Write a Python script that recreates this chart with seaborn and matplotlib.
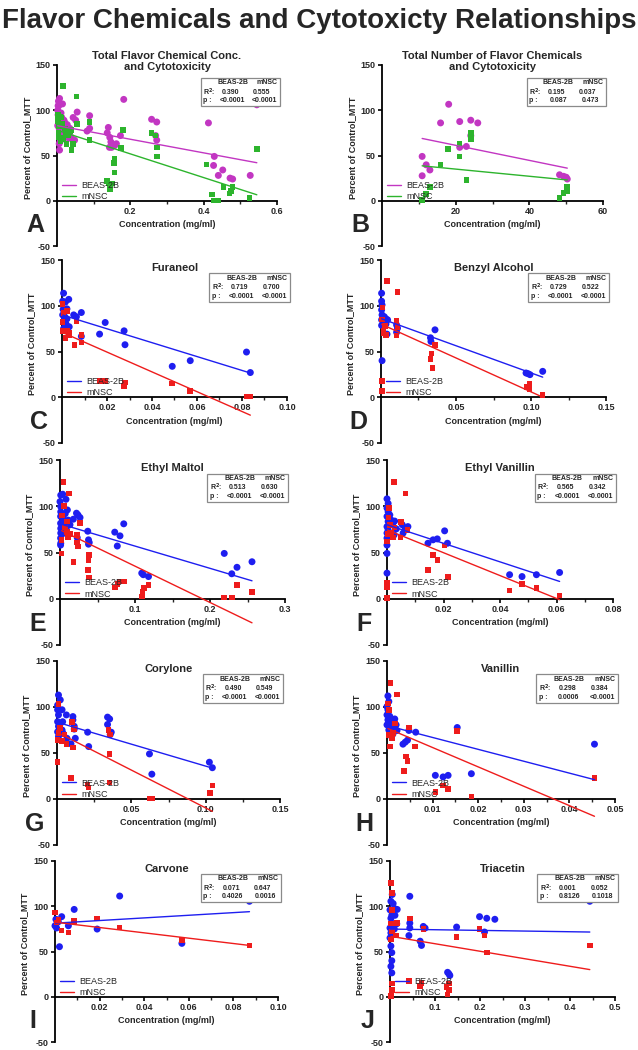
import numpy as np
import pandas as pd
import seaborn as sns
import matplotlib
matplotlib.use("Agg")
import matplotlib.pyplot as plt
from matplotlib.patches import Rectangle

# ------------------------------------------------------------------ data
suptitle = "Flavor Chemicals and Cytotoxicty Relationships"
series_names = ["BEAS-2B", "mNSC"]
letters = ["A", "B", "C", "D", "E", "F", "G", "H", "I", "J"]
titles = ["Total Flavor Chemical Conc.\nand Cytotoxicity",
          "Total Number of Flavor Chemicals\nand Cytotoxicity",
          "Furaneol", "Benzyl Alcohol", "Ethyl Maltol", "Ethyl Vanillin",
          "Corylone", "Vanillin", "Carvone", "Triacetin"]
x_max = [0.6, 60, 0.10, 0.15, 0.3, 0.08, 0.15, 0.05, 0.10, 0.5]
x_ticks = [[0.2, 0.4, 0.6], [20, 40, 60], [0.02, 0.04, 0.06, 0.08, 0.10],
           [0.05, 0.10, 0.15], [0.1, 0.2, 0.3], [0.02, 0.04, 0.06, 0.08],
           [0.05, 0.10, 0.15], [0.01, 0.02, 0.03, 0.04, 0.05],
           [0.02, 0.04, 0.06, 0.08, 0.10], [0.1, 0.2, 0.3, 0.4, 0.5]]
x_tick_labels = [["0.2", "0.4", "0.6"], ["20", "40", "60"],
                 ["0.02", "0.04", "0.06", "0.08", "0.10"],
                 ["0.05", "0.10", "0.15"], ["0.1", "0.2", "0.3"],
                 ["0.02", "0.04", "0.06", "0.08"], ["0.05", "0.10", "0.15"],
                 ["0.01", "0.02", "0.03", "0.04", "0.05"],
                 ["0.02", "0.04", "0.06", "0.08", "0.10"],
                 ["0.1", "0.2", "0.3", "0.4", "0.5"]]
y_ticks = [-50, 0, 50, 100, 150]

r2_beas = ["0.390", "0.195", "0.719", "0.729", "0.513", "0.565", "0.490", "0.298", "0.071", "0.001"]
r2_mnsc = ["0.555", "0.037", "0.700", "0.522", "0.630", "0.342", "0.549", "0.384", "0.647", "0.052"]
p_beas = ["<0.0001", "0.087", "<0.0001", "<0.0001", "<0.0001", "<0.0001", "<0.0001", "0.0006", "0.4026", "0.8126"]
p_mnsc = ["<0.0001", "0.473", "<0.0001", "<0.0001", "<0.0001", "<0.0001", "<0.0001", "<0.0001", "0.0016", "0.1018"]

# regression lines (intercept at x=0, slope)
fit_beas_intercept = [83, 77.9, 90, 86, 81, 80, 83.5, 79.8, 81.3, 74.8]
fit_beas_slope = [-75.2, -0.8325, -758.7, -594, -240.6, -1003, -477.5, -1292, 145.6, -7.4]
fit_mnsc_intercept = [78, 42.9, 71, 80, 74.5, 74.5, 72.6, 77, 82.4, 66.9]
fit_mnsc_slope = [-131, -0.396, -1082, -741, -392.6, -1236, -823, -2105, -294.7, -83.1]

# Panel A
A_beas_x = [0.007, 0.015, 0.005, 0.007, 0.055, 0.044, 0.051, 0.039, 0.048, 0.089, 0.089, 0.082,
            0.140, 0.137, 0.144, 0.147, 0.149, 0.157, 0.162, 0.143, 0.173, 0.182, 0.258, 0.272,
            0.269, 0.272, 0.413, 0.427, 0.429, 0.440, 0.452, 0.472, 0.479, 0.527, 0.545,
            0.002, 0.003, 0.005, 0.004, 0.006, 0.008, 0.010, 0.012, 0.003, 0.007, 0.015, 0.018,
            0.020, 0.022, 0.025, 0.013, 0.009, 0.004, 0.016, 0.028, 0.030, 0.032, 0.035, 0.011,
            0.006, 0.019, 0.024, 0.002, 0.014, 0.026]
A_beas_y = [113, 107, 105, 56, 98, 92, 89, 70, 67, 94, 80, 77, 81, 75, 70, 65, 59, 61, 63, 59, 72,
            112, 90, 87, 72, 67, 86, 39, 49, 28, 34, 25, 24, 28, 106,
            100, 95, 90, 85, 80, 75, 70, 68, 105, 88, 82, 78, 73, 86, 79, 92, 66, 110, 71, 84, 76,
            69, 80, 97, 63, 89, 74, 83, 77, 72]
A_mnsc_x = [0.016, 0.053, 0.010, 0.026, 0.039, 0.044, 0.055, 0.089, 0.089, 0.137, 0.141, 0.146,
            0.151, 0.157, 0.156, 0.157, 0.144, 0.180, 0.174, 0.258, 0.269, 0.272, 0.272, 0.408,
            0.423, 0.427, 0.440, 0.454, 0.470, 0.474, 0.479, 0.525, 0.545,
            0.002, 0.004, 0.006, 0.008, 0.012, 0.018, 0.022, 0.030, 0.035, 0.003, 0.010, 0.015,
            0.025, 0.040, 0.005]
A_mnsc_y = [127, 115, 93, 63, 56, 63, 85, 87, 67, 22, 19, 17, 19, 46, 42, 31, 13, 78, 58, 75, 72,
            59, 49, 40, 7, 0.5, 0.5, 15, 8, 11, 15, 3, 57,
            88, 75, 82, 70, 92, 68, 80, 72, 77, 95, 66, 85, 74, 78, 70]

# Panel B
B_beas_x = [10.9, 10.9, 12, 13, 15.9, 18.1, 21.1, 21.1, 22.9, 24.1, 24.1, 26, 48.2, 49.3, 50, 50.3]
B_beas_y = [49, 27.6, 39.7, 34, 86, 106.6, 87.5, 59, 60, 89, 72, 86, 28.7, 27, 26, 24]
B_mnsc_x = [10.9, 12, 13, 15.9, 17.9, 21.1, 21.1, 22.9, 24.1, 24.1, 48.2, 49.3, 50.3, 50.3]
B_mnsc_y = [0.7, 7.4, 15, 40, 57, 63, 49, 23, 75, 68, 3, 8.5, 11, 15]

# Panel C
C_beas_x = [0.0007, 0.0003, 0.0015, 0.0022, 0.0030, 0.0003, 0.0010, 0.0022, 0.0015, 0.0007, 0.0032,
            0.0052, 0.0064, 0.0086, 0.0086, 0.0167, 0.0192, 0.0276, 0.0280, 0.0490, 0.0570,
            0.0820, 0.0837, 0.0005, 0.0012, 0.0018]
C_beas_y = [113.7, 105, 104, 96.6, 107, 90, 84.6, 85.7, 77, 75, 77, 90, 88, 92.6, 66.5, 69, 81.7,
            72.6, 57.4, 33.8, 40, 49.4, 27, 96, 88, 80]
C_mnsc_x = [0.0003, 0.0007, 0.0003, 0.0003, 0.0015, 0.0022, 0.0030, 0.0032, 0.0022, 0.0055, 0.0064,
            0.0086, 0.0086, 0.0167, 0.0192, 0.0276, 0.0280, 0.0490, 0.0570, 0.0820, 0.0830, 0.0837]
C_mnsc_y = [101.7, 92, 82, 72.6, 65, 72.6, 70, 67.6, 94, 57.4, 82.8, 68, 60, 18, 18, 12, 16, 15, 7,
            0.7, 0.7, 0.7]

# Panel D
D_beas_x = [0.0004, 0.0004, 0.0007, 0.0004, 0.0007, 0.0004, 0.0004, 0.0007, 0.0022, 0.0033, 0.0033,
            0.0044, 0.0040, 0.0104, 0.0104, 0.0110, 0.0330, 0.0333, 0.0360, 0.0967, 0.0980,
            0.0993, 0.1078]
D_beas_y = [113.7, 105, 101, 95.5, 90, 84.6, 78.5, 40, 88, 85.7, 80, 84.6, 69, 79, 71, 75.5, 65, 61,
            73.7, 26.5, 25.8, 24.7, 28.3]
D_mnsc_x = [0.0040, 0.0110, 0.0010, 0.0016, 0.0018, 0.0033, 0.0104, 0.0104, 0.0110, 0.0330, 0.0338,
            0.0344, 0.0360, 0.0007, 0.0007, 0.0970, 0.0990, 0.0990, 0.1078, 0.0005, 0.0025]
D_mnsc_y = [127, 114.8, 98, 72.6, 70, 68, 83.5, 67.6, 77, 42, 47.6, 32, 57, 18, 7, 11, 14.5, 8.4,
            2.2, 85, 78]

# Panel E
E_beas_x = [0.0010, 0.0036, 0.0000, 0.0010, 0.0010, 0.0008, 0.0008, 0.0010, 0.0010, 0.0008, 0.0008,
            0.0010, 0.0080, 0.0098, 0.0110, 0.0090, 0.0133, 0.0178, 0.0220, 0.0240, 0.0267, 0.0230,
            0.0370, 0.0380, 0.0390, 0.0380, 0.0730, 0.0800, 0.0764, 0.0850, 0.1090, 0.1110, 0.1180,
            0.2190, 0.2290, 0.2360, 0.2560, 0.004, 0.006, 0.003, 0.005, 0.007]
E_beas_y = [112, 113, 105, 99.6, 94, 89, 81.6, 76, 71, 65.5, 58, 60, 107.5, 96, 85, 78, 80, 86,
            92.5, 90.6, 87.8, 66, 73, 63.7, 60.8, 59, 72, 68, 57, 81, 27.7, 26, 24, 49, 27, 34, 40,
            88, 75, 70, 83, 92]
E_mnsc_x = [0.0044, 0.0120, 0.0022, 0.0067, 0.0090, 0.0110, 0.0022, 0.0133, 0.0090, 0.0267, 0.0178,
            0.0230, 0.0230, 0.0240, 0.0370, 0.0380, 0.0390, 0.0390, 0.0730, 0.0764, 0.0800, 0.0850,
            0.1090, 0.1100, 0.1120, 0.1180, 0.2190, 0.2290, 0.2360, 0.2560, 0.003, 0.005]
E_mnsc_y = [126, 114, 49, 77, 72, 67, 63.7, 70, 83.5, 81.6, 40, 69, 60.8, 56.5, 31, 42, 47.5, 23, 12,
            15.8, 18.7, 18.7, 2.5, 8, 11.5, 15, 1.4, 1.4, 15, 7.2, 90, 100]

# Panel F
F_beas_x = [0, 0.0004, 0, 0.0004, 0, 0.0004, 0, 0.0004, 0, 0, 0, 0, 0, 0.0010, 0.0015, 0.0021, 0.0027,
            0.0033, 0.0025, 0.0054, 0.0057, 0.0065, 0.0074, 0.0145, 0.0163, 0.0178, 0.0204, 0.0214,
            0.0434, 0.0478, 0.0529, 0.0611]
F_beas_y = [108, 103, 98, 94, 89, 83.5, 78, 74.5, 71, 65.5, 58, 49, 27.7, 90.6, 85, 81.6, 84, 75.5,
            69, 80, 71, 76, 78, 60, 63.7, 64.7, 73.4, 60, 26, 24, 26, 28.4]
F_mnsc_x = [0.0025, 0.0065, 0.0007, 0, 0, 0, 0, 0.0010, 0.0015, 0.0021, 0.0027, 0.0050, 0.0048,
            0.0072, 0.0145, 0.0163, 0.0178, 0.0204, 0.0216, 0.0434, 0.0478, 0.0529, 0.0611,
            0.0003, 0.0005]
F_mnsc_y = [126, 114, 98, 62, 17, 13, 0.7, 80, 71, 66, 77, 83, 66, 74.5, 31, 47.5, 42, 57.5, 23.4,
            9, 15.8, 11.5, 3.6, 70, 88]

# Panel G
G_beas_x = [0.0010, 0.0022, 0.0004, 0.0004, 0.0010, 0.0004, 0.0010, 0.0004, 0.0010, 0.0022, 0.0034,
            0.0038, 0.0034, 0.0040, 0.0063, 0.0067, 0.0094, 0.0107, 0.0107, 0.0116, 0.0116, 0.0123,
            0.0206, 0.0213, 0.0340, 0.0354, 0.0340, 0.0358, 0.0365, 0.0622, 0.0638, 0.1025, 0.1045]
G_beas_y = [113, 107.7, 102, 97, 91.4, 84, 79, 73, 68, 82, 97, 84, 75, 71.5, 91.4, 66, 60, 89.6, 86,
            79, 76, 66, 72.6, 57, 89, 87, 81, 70, 72.6, 49, 27, 40, 34]
G_mnsc_x = [0.0004, 0.0004, 0.0010, 0.0022, 0.0010, 0.0034, 0.0050, 0.0063, 0.0100, 0.0107, 0.0116,
            0.0206, 0.0213, 0.0094, 0.0347, 0.0354, 0.0358, 0.0354, 0.0622, 0.0638, 0.1030, 0.1045]
G_mnsc_y = [40, 64, 71.5, 77, 103, 63, 70, 60, 83.5, 56, 76, 16, 12.6, 22.8, 75, 18, 70, 49, 0.4,
            0.4, 6.5, 14.5]

# Panel H
H_beas_x = [0.0002, 0.0004, 0, 0.0002, 0, 0.0002, 0, 0.0004, 0.0006, 0.0008, 0.0010, 0.0008, 0.0013,
            0.0017, 0.0020, 0.0015, 0.0022, 0.0035, 0.0040, 0.0045, 0.0048, 0.0063, 0.0154, 0.0106,
            0.0123, 0.0134, 0.0185, 0.0455]
H_beas_y = [112, 106, 100.5, 97, 91.4, 86, 80.6, 75, 90, 84, 79, 69, 70.5, 87, 80.6, 76, 74.5, 59.6,
            61.8, 64, 74.5, 72.6, 77.7, 25.7, 24, 25.7, 27.5, 59.6]
H_mnsc_x = [0.0008, 0.0022, 0.0002, 0.0004, 0.0004, 0.0006, 0.0011, 0.0013, 0.0017, 0.0048, 0.0062,
            0.0042, 0.0045, 0.0037, 0.0106, 0.0123, 0.0134, 0.0185, 0.0154, 0.0455]
H_mnsc_y = [125.8, 113.8, 104, 97, 69.7, 57, 66, 71.5, 82, 77.7, 57, 46, 41.6, 30.7, 7.6, 14.8, 10.8,
            2.9, 74, 22.8]

# Panel I
I_beas_x = [0.0004, 0.0010, 0.0000, 0.0007, 0.0015, 0.0020, 0.0030, 0.0060, 0.0086, 0.0189, 0.0290,
            0.0569, 0.0872]
I_beas_y = [85.6, 82, 78.4, 76, 83, 55.3, 88.5, 78.4, 96.5, 74.8, 111.3, 59, 105.5]
I_mnsc_x = [0.0000, 0.0015, 0.0030, 0.0007, 0.0060, 0.0086, 0.0189, 0.0290, 0.0569, 0.0872]
I_mnsc_y = [92.9, 85, 73.4, 82, 71.2, 83.8, 86.7, 76.6, 62.5, 56.7]

# Panel J
J_beas_x = [0.002, 0.005, 0.007, 0, 0.004, 0.002, 0.005, 0, 0.002, 0, 0.002, 0.004, 0.004, 0.002,
            0.004, 0.0096, 0.011, 0.016, 0.015, 0.0096, 0.044, 0.044, 0.044, 0.042, 0.067, 0.070,
            0.074, 0.078, 0.128, 0.131, 0.133, 0.148, 0.199, 0.210, 0.215, 0.233, 0.444]
J_beas_y = [105.5, 113, 103, 96, 90, 86.7, 81, 76, 70.5, 65, 56, 48.8, 39.8, 33.6, 26.4, 97.6, 90,
            96.5, 80.6, 74.8, 111, 81.3, 76, 67.6, 61.4, 56.7, 77.7, 75.9, 27, 25.3, 23.5, 77, 88.5,
            71.5, 86.7, 85.6, 105.5]
J_mnsc_x = [0.002, 0.004, 0.005, 0.002, 0.004, 0.002, 0.005, 0.004, 0.002, 0.015, 0.013, 0.044, 0.042,
            0.067, 0.070, 0.074, 0.126, 0.128, 0.131, 0.131, 0.148, 0.199, 0.210, 0.215, 0.444]
J_mnsc_y = [125.8, 114.6, 96, 81, 72.3, 63.3, 14.5, 7.2, 1, 81.3, 67.6, 86.7, 17.3, 11.6, 15.2, 74.8,
            10.8, 2.5, 7.2, 14.5, 65.8, 75, 67.6, 48.8, 56.7]

beas_x = [A_beas_x, B_beas_x, C_beas_x, D_beas_x, E_beas_x, F_beas_x, G_beas_x, H_beas_x, I_beas_x, J_beas_x]
beas_y = [A_beas_y, B_beas_y, C_beas_y, D_beas_y, E_beas_y, F_beas_y, G_beas_y, H_beas_y, I_beas_y, J_beas_y]
mnsc_x = [A_mnsc_x, B_mnsc_x, C_mnsc_x, D_mnsc_x, E_mnsc_x, F_mnsc_x, G_mnsc_x, H_mnsc_x, I_mnsc_x, J_mnsc_x]
mnsc_y = [A_mnsc_y, B_mnsc_y, C_mnsc_y, D_mnsc_y, E_mnsc_y, F_mnsc_y, G_mnsc_y, H_mnsc_y, I_mnsc_y, J_mnsc_y]

# ------------------------------------------------------------------ layout / style
sns.set_style("ticks")
plt.rcParams["font.family"] = ["Liberation Sans", "DejaVu Sans"]
plt.rcParams["font.weight"] = "bold"
plt.rcParams["axes.labelweight"] = "bold"

W, H = 638, 1050
fig = plt.figure(figsize=(W / 100, H / 100), dpi=100)

# axes boxes in pixels: left, top, right, bottom
boxes = [(57, 65, 277, 246), (382, 65, 603, 246),
         (62, 260, 287, 443), (381, 260, 606, 443),
         (60, 460, 285, 645), (387, 460, 613, 645),
         (57, 661, 280, 845), (387, 661, 615, 845),
         (55, 861, 278, 1042), (390, 861, 615, 1042)]

MAG, GRN, BLU, RED = "#C236C2", "#2DB42D", "#1E1EF0", "#EE1C1C"

fig.text(0.5, 1 - 21 / H, suptitle, ha="center", va="center", fontsize=20, weight="bold")

for i in range(10):
    l, t, r, b = boxes[i]
    ax = fig.add_axes([l / W, 1 - b / H, (r - l) / W, (b - t) / H])
    c_b, c_m = (MAG, GRN) if i < 2 else (BLU, RED)

    sns.scatterplot(x=beas_x[i], y=beas_y[i], color=c_b, marker="o", s=25,
                    edgecolor="none", ax=ax, clip_on=False, legend=False, zorder=3)
    sns.scatterplot(x=mnsc_x[i], y=mnsc_y[i], color=c_m, marker="s", s=16,
                    edgecolor="none", ax=ax, clip_on=False, legend=False, zorder=3)

    xb = np.array([min(beas_x[i]), max(beas_x[i])])
    xm = np.array([min(mnsc_x[i]), max(mnsc_x[i])])
    sns.lineplot(x=xb, y=fit_beas_intercept[i] + fit_beas_slope[i] * xb, color=c_b,
                 lw=1.0, ax=ax, label=series_names[0], zorder=4)
    sns.lineplot(x=xm, y=fit_mnsc_intercept[i] + fit_mnsc_slope[i] * xm, color=c_m,
                 lw=1.0, ax=ax, label=series_names[1], zorder=4)

    ax.set_xlim(0, x_max[i])
    ax.set_ylim(-50, 150)
    ax.spines["top"].set_visible(False)
    ax.spines["right"].set_visible(False)
    ax.spines["bottom"].set_position(("data", 0))
    for s in ("left", "bottom"):
        ax.spines[s].set_linewidth(1.3)
        ax.spines[s].set_color("black")
    ax.set_yticks(y_ticks)
    ax.set_yticklabels([str(v) for v in y_ticks])
    ax.set_xticks(x_ticks[i])
    ax.set_xticklabels(x_tick_labels[i])
    step = x_ticks[i][1] - x_ticks[i][0]
    ax.set_xticks(list(np.arange(step / 2, x_max[i], step)), minor=True)
    ax.tick_params(axis="both", which="major", length=3, width=1.2, labelsize=6.5, pad=1.5,
                   direction="out", color="black")
    ax.tick_params(axis="x", which="minor", length=2, width=1.0, direction="out")
    for lab in ax.get_xticklabels() + ax.get_yticklabels():
        lab.set_fontweight("bold")

    ax.set_xlabel("Concentration (mg/ml)", fontsize=6.5, weight="bold", labelpad=3)
    ax.set_ylabel("Percent of Control_MTT", fontsize=6.5, weight="bold")
    ax.yaxis.set_label_coords(-0.115, 0.54)

    ty = 1.02 if i < 2 else 0.955
    ax.text(0.5, ty, titles[i], transform=ax.transAxes, ha="center", va="center",
            fontsize=8, weight="bold", linespacing=1.15)
    ax.text(-0.1, 0.115, letters[i], transform=ax.transAxes, ha="center", va="center",
            fontsize=18, weight="bold")

    # stats box
    bx0, bx1, by0, by1 = 0.655, 1.012, 0.772, 0.927
    ax.add_patch(Rectangle((bx0, by0), bx1 - bx0, by1 - by0, transform=ax.transAxes,
                           fill=True, facecolor="white", edgecolor="#8a8a8a", lw=0.9,
                           clip_on=False, zorder=5))
    bw = bx1 - bx0
    c1, c2 = bx0 + 0.38 * bw, bx0 + 0.77 * bw
    rows = [by0 + 0.83 * (by1 - by0), by0 + 0.5 * (by1 - by0), by0 + 0.19 * (by1 - by0)]
    fs = 5.0
    kw = dict(transform=ax.transAxes, va="center", fontsize=fs, weight="bold", zorder=6)
    ax.text(c1 + 0.02 * bw, rows[0], series_names[0], ha="center", **kw)
    ax.text(c2 + 0.07 * bw, rows[0], series_names[1], ha="center", **kw)
    ax.text(bx0 + 0.03 * bw, rows[1], "R$^2$:", ha="left", **kw)
    ax.text(c1, rows[1], r2_beas[i], ha="center", **kw)
    ax.text(c2, rows[1], r2_mnsc[i], ha="center", **kw)
    ax.text(bx0 + 0.03 * bw, rows[2], "p :", ha="left", **kw)
    ax.text(c1 + 0.02 * bw, rows[2], p_beas[i], ha="center", **kw)
    ax.text(c2 + 0.04 * bw, rows[2], p_mnsc[i], ha="center", **kw)

    ax.legend(loc="upper left", bbox_to_anchor=(0.0, 0.39), frameon=False,
              handlelength=1.5, handletextpad=0.6, borderaxespad=0.2, labelspacing=0.25,
              prop={"size": 6.5, "weight": "normal"})

fig.savefig("out.png", dpi=100)
